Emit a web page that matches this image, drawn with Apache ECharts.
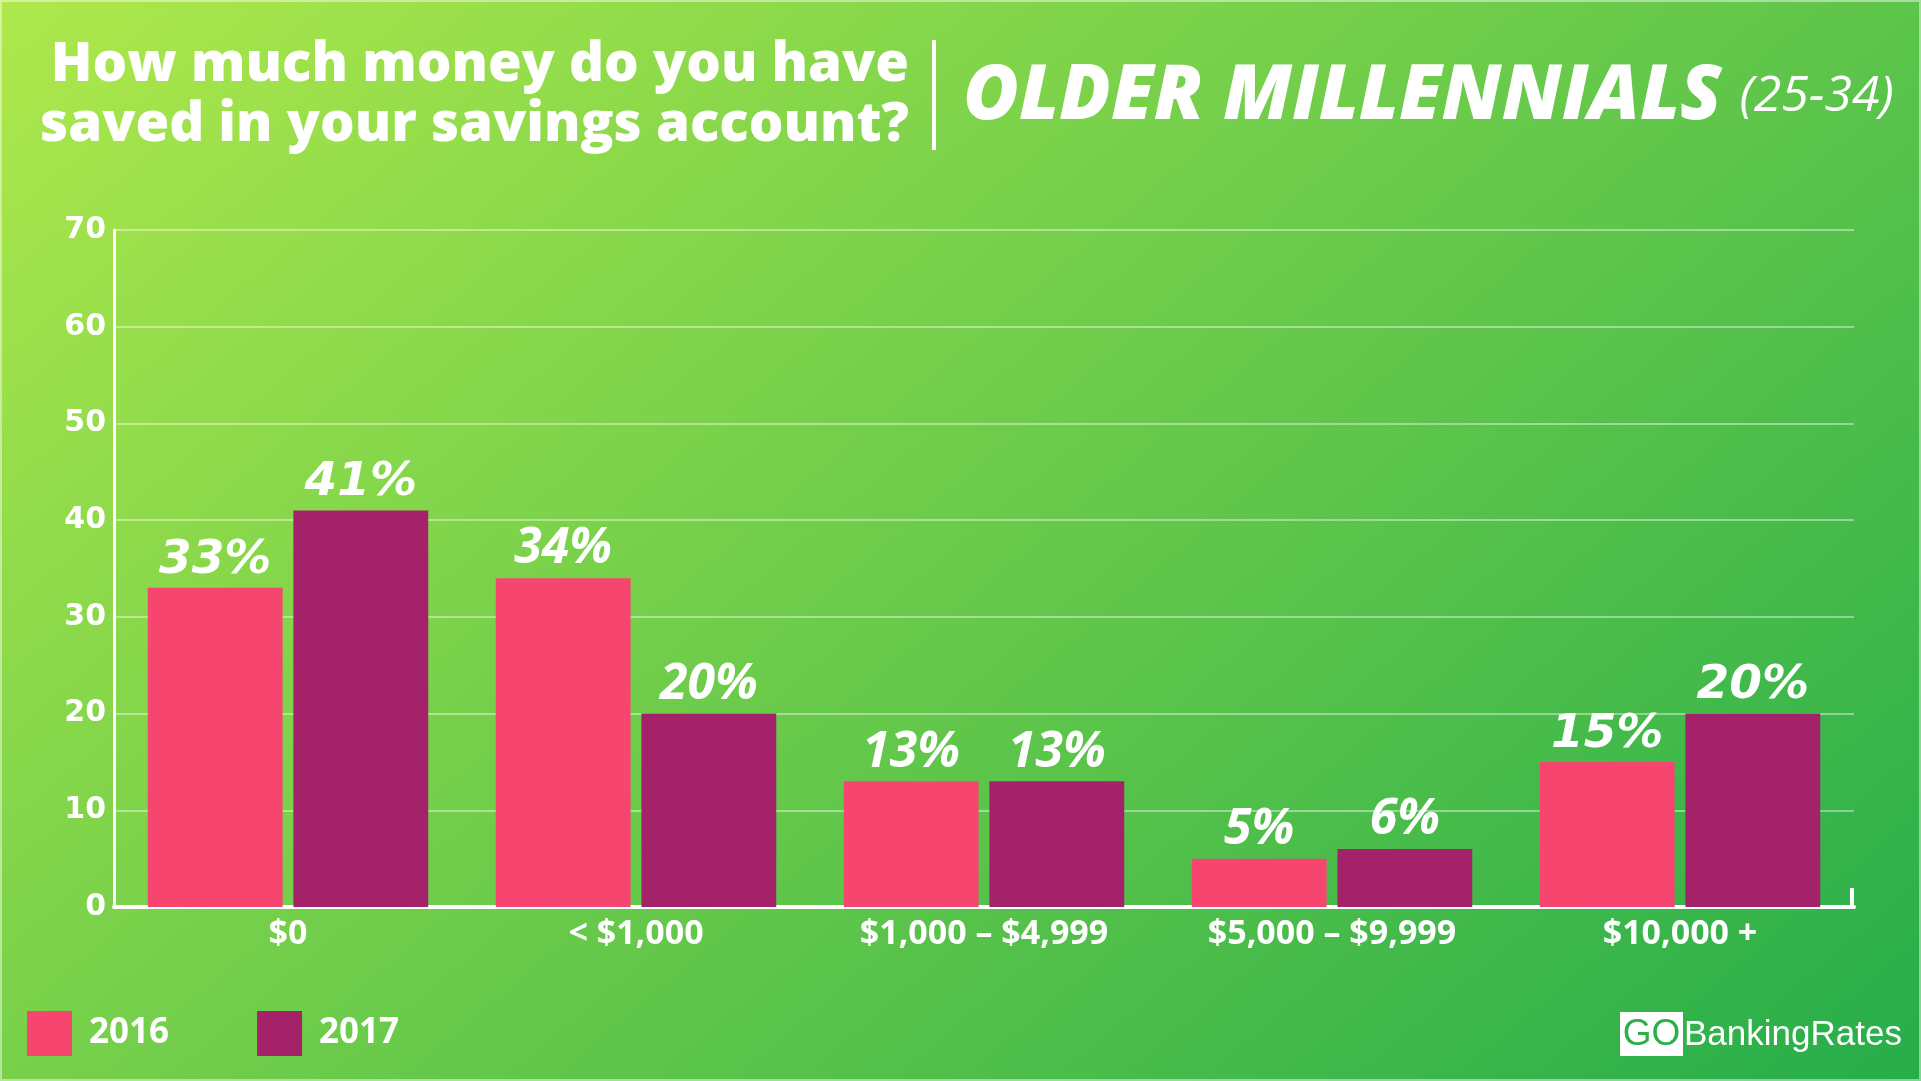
<!DOCTYPE html>
<html>
<head>
<meta charset="utf-8">
<script src="https://cdn.jsdelivr.net/npm/echarts@6/dist/echarts.min.js"></script>
<style>
html,body{margin:0;padding:0;width:1921px;height:1081px;overflow:hidden;}
#chart{width:1921px;height:1081px;}
</style>
</head>
<body>
<div id="chart"></div>
<script>
// ---- data ----
var categories = ['$0', '< $1,000', '$1,000 – $4,999', '$5,000 – $9,999', '$10,000 +'];
var seriesNames = ['2016', '2017'];
var values2016 = [33, 34, 13, 5, 15];
var values2017 = [41, 20, 13, 6, 20];
var yTicks = [0, 10, 20, 30, 40, 50, 60, 70];
var titleMain = 'How much money do you have\nsaved in your savings account?';
var titleGroup = 'OLDER MILLENNIALS';
var titleAges = '(25-34)';
var brand = ['GO', 'BankingRates'];

// ---- styles ----
var colors = ['#f64670', '#a4226a'];
var labelFonts = ['DejaVu Sans', 'Open Sans', 'Open Sans', 'Open Sans', 'DejaVu Sans'];
var labelSizes = [47, 50, 50, 50, 47];

function makeData(vals) {
  return vals.map(function (v, i) {
    return {
      value: v,
      label: { fontFamily: labelFonts[i], fontSize: labelSizes[i] }
    };
  });
}

var chart = echarts.init(document.getElementById('chart'), null, { renderer: 'canvas' });

var option = {
  backgroundColor: {
    type: 'linear', x: 0, y: 0, x2: 1332, y2: 1578, global: true,
    colorStops: [
      { offset: 0, color: '#aee84b' },
      { offset: 1, color: '#26ad4a' }
    ]
  },
  animation: false,
  title: [
    {
      text: titleMain,
      left: 904,
      top: 30,
      textAlign: 'right',
      textStyle: {
        color: '#ffffff', fontFamily: 'Open Sans', fontWeight: 800,
        fontSize: 54.5, lineHeight: 60
      }
    },
    {
      text: '{a|' + titleGroup + '}{b|' + titleAges + '}',
      left: 958,
      top: 46,
      textStyle: {
        rich: {
          a: { color: '#ffffff', fontFamily: 'Open Sans', fontWeight: 800, fontStyle: 'italic', fontSize: 76, lineHeight: 92 },
          b: { color: '#ffffff', fontFamily: 'Open Sans', fontWeight: 'normal', fontStyle: 'italic', fontSize: 50, lineHeight: 92, padding: [0, 0, 0, 18] }
        }
      }
    }
  ],
  legend: {
    left: 27,
    top: 1011,
    padding: 0,
    itemWidth: 45,
    itemHeight: 45,
    itemGap: 88,
    icon: 'rect',
    data: seriesNames,
    textStyle: {
      color: '#ffffff', fontFamily: 'Open Sans', fontWeight: 'bold', fontSize: 35,
      padding: [4, 0, 0, 12]
    }
  },
  grid: { left: 114, right: 67, top: 230, bottom: 174, containLabel: false },
  xAxis: {
    type: 'category',
    data: categories,
    axisLine: { show: true, lineStyle: { color: '#ffffff', width: 4 } },
    axisTick: { show: false },
    axisLabel: {
      color: '#ffffff', fontFamily: 'Open Sans', fontWeight: 'bold', fontSize: 34, margin: 10
    }
  },
  yAxis: {
    type: 'value',
    min: 0, max: 70, interval: 10,
    axisLine: { show: true, lineStyle: { color: '#ffffff', width: 3 } },
    axisTick: { show: false },
    axisLabel: {
      color: '#ffffff', fontFamily: 'DejaVu Sans', fontWeight: 'bold', fontSize: 30, margin: 8,
      formatter: function (v) { return yTicks.indexOf(v) >= 0 ? String(v) : ''; }
    },
    splitLine: { show: true, lineStyle: { color: 'rgba(255,255,255,0.55)', width: 1.5 } }
  },
  series: [
    {
      name: seriesNames[0], type: 'bar', data: makeData(values2016),
      barGap: '8%', barCategoryGap: '19.4%',
      itemStyle: { color: colors[0] },
      label: {
        show: true, position: 'top', distance: 4, formatter: '{c}%',
        color: '#ffffff', fontWeight: 'bold', fontStyle: 'italic'
      }
    },
    {
      name: seriesNames[1], type: 'bar', data: makeData(values2017),
      barGap: '8%', barCategoryGap: '19.4%',
      itemStyle: { color: colors[1] },
      label: {
        show: true, position: 'top', distance: 4, formatter: '{c}%',
        color: '#ffffff', fontWeight: 'bold', fontStyle: 'italic'
      }
    }
  ],
  graphic: [
    { type: 'line', shape: { x1: 934, y1: 40, x2: 934, y2: 150 }, style: { stroke: '#ffffff', lineWidth: 4 } },
    { type: 'line', shape: { x1: 1852, y1: 888, x2: 1852, y2: 909 }, style: { stroke: '#ffffff', lineWidth: 4 } },
    { type: 'rect', shape: { x: 1620, y: 1012, width: 63, height: 44 }, style: { fill: '#ffffff' } },
    { type: 'text', x: 1651.5, y: 1035, style: { text: brand[0], fill: '#2bb04a', font: 'normal 37px "Liberation Sans"', align: 'center', verticalAlign: 'middle' } },
    { type: 'text', x: 1684, y: 1035, style: { text: brand[1], fill: '#ffffff', font: 'normal 35px "Liberation Sans"', align: 'left', verticalAlign: 'middle' } },
    { type: 'rect', shape: { x: 0.5, y: 0.5, width: 1920, height: 1080 }, style: { fill: 'none', stroke: 'rgba(255,255,255,0.45)', lineWidth: 3 }, silent: true }
  ]
};

chart.setOption(option);
</script>
</body>
</html>
